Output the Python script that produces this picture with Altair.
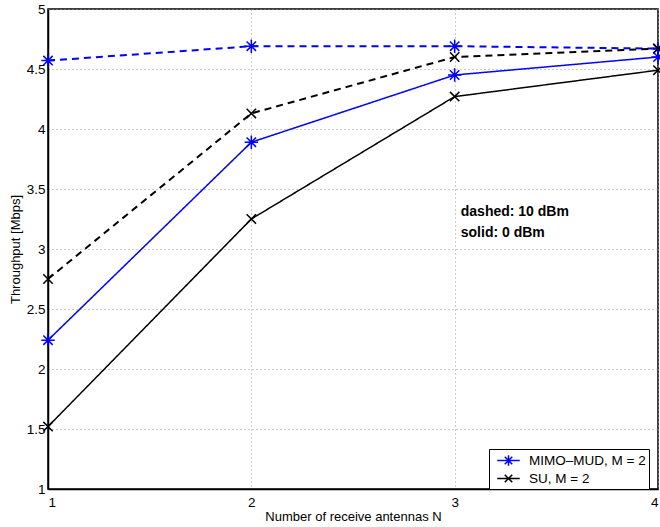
import altair as alt
import pandas as pd

antennas = [1, 2, 3, 4]
mimo_10dbm = [4.57, 4.69, 4.69, 4.67]
su_10dbm = [2.75, 4.13, 4.60, 4.67]
mimo_0dbm = [2.24, 3.89, 4.45, 4.60]
su_0dbm = [1.52, 3.25, 4.27, 4.49]

schemes = ["MIMO\u2013MUD, M = 2", "SU, M = 2"]
powers = ["10 dBm", "0 dBm"]
colors = ["#0000ff", "#000000"]
y_ticks = [1, 1.5, 2, 2.5, 3, 3.5, 4, 4.5, 5]

rows = []
for scheme, power, vals in [
    (schemes[0], powers[0], mimo_10dbm),
    (schemes[1], powers[0], su_10dbm),
    (schemes[0], powers[1], mimo_0dbm),
    (schemes[1], powers[1], su_0dbm),
]:
    for n, v in zip(antennas, vals):
        rows.append({"scheme": scheme, "power": power, "N": n, "thr": v})
df = pd.DataFrame(rows)

notes = pd.DataFrame({
    "txt": ["dashed: 10 dBm", "solid: 0 dBm"],
    "x": [3.03, 3.03],
    "y": [3.31, 3.13],
})

ASTER = "M-1,0L1,0M0,-1L0,1M-0.7,-0.7L0.7,0.7M-0.7,0.7L0.7,-0.7"
XMARK = "M-0.7,-0.7L0.7,0.7M-0.7,0.7L0.7,-0.7"
LEG_ASTER = "M-1.5,0L1.5,0M0,-0.7L0,0.7M-0.5,-0.5L0.5,0.5M-0.5,0.5L0.5,-0.5"
LEG_X = "M-1.5,0L1.5,0M-0.5,-0.5L0.5,0.5M-0.5,0.5L0.5,-0.5"

xs = alt.X("N:Q", scale=alt.Scale(domain=[1, 4], nice=False),
           axis=alt.Axis(values=antennas, labelExpr="datum.value", title="Number of receive antennas N"))
ys = alt.Y("thr:Q", scale=alt.Scale(domain=[1, 5], nice=False),
           axis=alt.Axis(values=y_ticks, labelExpr="datum.value", title="Throughput [Mbps]"))
col = alt.Color("scheme:N", scale=alt.Scale(domain=schemes, range=colors),
                legend=alt.Legend(title=None, orient="none", legendX=441, legendY=440,
                                  symbolSize=225,
                                  symbolStrokeWidth=1.5, symbolOpacity=1,
                                  strokeColor="black", fillColor="white",
                                  padding=3, labelFontSize=13.5, labelColor="black",
                                  labelFont="Liberation Sans", rowPadding=1,
                                  symbolOffset=8, labelOffset=12))
shp = alt.Shape("scheme:N", scale=alt.Scale(domain=schemes, range=[LEG_ASTER, LEG_X]))

base = alt.Chart(df)

lines = base.mark_line().encode(
    x=xs, y=ys,
    color=col,
    strokeDash=alt.StrokeDash("power:N", scale=alt.Scale(domain=powers, range=[[7, 5], [1, 0]]), legend=None),
    strokeWidth=alt.StrokeWidth("power:N", scale=alt.Scale(domain=powers, range=[2, 1.5]), legend=None),
    detail="power:N",
)

pts_mimo = base.transform_filter(alt.datum.scheme == schemes[0]).mark_point(
    shape=ASTER, filled=False, size=180, strokeWidth=1.5, color=colors[0], opacity=1
).encode(x=xs, y=ys)

pts_su = base.transform_filter(alt.datum.scheme == schemes[1]).mark_point(
    shape=XMARK, filled=False, size=180, strokeWidth=1.5, color=colors[1], opacity=1
).encode(x=xs, y=ys)

legend_layer = base.mark_point(filled=False, size=0.01, strokeWidth=0.01).encode(
    x=xs, y=ys, color=col, shape=shp,
)

text = alt.Chart(notes).mark_text(align="left", baseline="middle", fontSize=14,
                                   fontWeight="bold", font="Liberation Sans",
                                   color="black").encode(
    x=alt.X("x:Q"), y=alt.Y("y:Q"), text="txt:N")

chart = alt.layer(lines, pts_mimo, pts_su, legend_layer, text).properties(
    width=610, height=480,
    padding={"left": 48, "top": 9, "right": 2, "bottom": 38},
    autosize=alt.AutoSizeParams(type="none"),
).configure_view(stroke="black", strokeWidth=1.5).configure_axis(
    grid=True, gridColor="#999999", gridDash=[1, 3], gridWidth=1,
    domainColor="black", domainWidth=1.5, ticks=False,
    labelFont="Liberation Sans", labelFontSize=13.5, labelColor="black",
    titleFont="Liberation Sans", titleFontSize=13, titleFontWeight="normal", titleColor="black",
).configure_axisX(labelPadding=6, titlePadding=2).configure_axisY(labelPadding=3, titlePadding=4)

chart.save("out.html", embed_options={"renderer": "svg", "actions": False})
